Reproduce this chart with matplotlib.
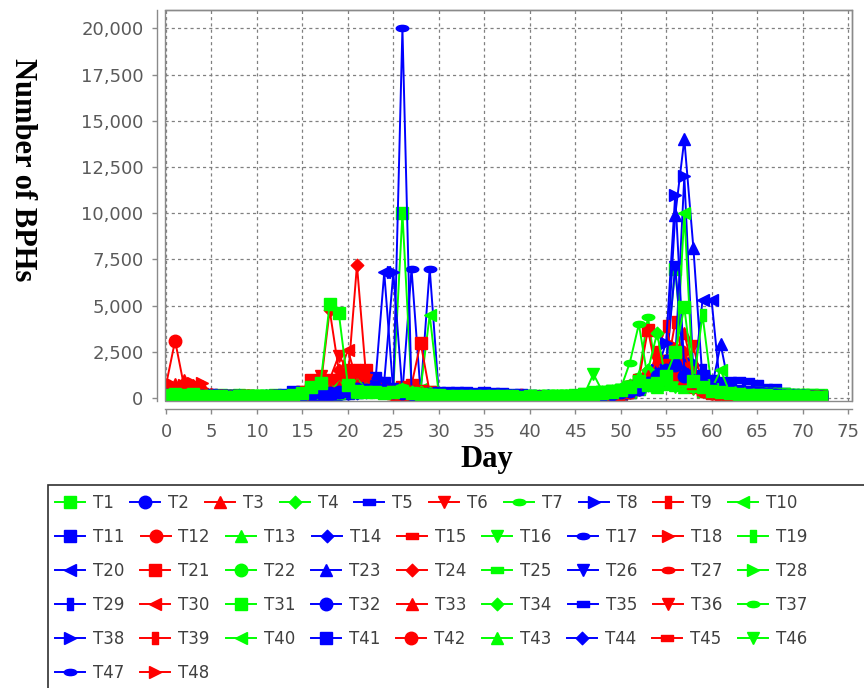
import numpy as np
import matplotlib.pyplot as plt
from matplotlib.path import Path
from matplotlib.patches import Rectangle
from matplotlib.ticker import FuncFormatter

# dias de muestreo
DAYS = list(range(73))

# BPH por trampa (dias 0-19 / 20-39 / 40-59 / 60-72)
T1 = [180, 220, 150, 200, 120, 90, 110, 80, 100, 120, 90, 110, 130, 100, 150, 250, 600, 800, 5100, 4600,
      700, 400, 300, 350, 250, 300, 400, 250, 200, 180, 150, 120, 100, 130, 110, 90, 100, 120, 90, 80,
      100, 80, 90, 110, 100, 120, 150, 200, 250, 300, 450, 600, 900, 700, 800, 1200, 2500, 4900, 900, 600,
      400, 300, 250, 200, 180, 150, 140, 120, 100, 110, 90, 80, 70]
T2 = [150, 120, 100, 90, 110, 130, 100, 80, 90, 70, 80, 60, 90, 100, 120, 150, 200, 300, 250, 350,
      400, 500, 450, 600, 400, 300, 250, 200, 150, 180, 200, 220, 180, 160, 150, 140, 120, 110, 100, 90,
      80, 70, 90, 80, 70, 80, 100, 120, 150, 200, 300, 400, 500, 800, 1200, 1500, 1800, 1200, 900, 700,
      500, 400, 350, 300, 250, 200, 180, 150, 120, 100, 90, 80, 70]
T3 = [700, 750, 1000, 700, 650, 200, 150, 100, 120, 90, 80, 100, 70, 90, 110, 200, 400, 700, 500, 600,
      900, 700, 500, 400, 300, 250, 300, 200, 250, 150, 120, 100, 90, 80, 100, 90, 70, 80, 120, 150,
      90, 70, 60, 80, 70, 90, 100, 120, 150, 200, 300, 500, 800, 1200, 1000, 1500, 1300, 1100, 800, 500,
      300, 250, 200, 150, 130, 120, 100, 90, 80, 70, 60, 50, 40]
T4 = [150, 100, 130, 90, 160, 120, 80, 100, 140, 90, 70, 100, 120, 80, 130, 200, 350, 500, 450, 600,
      550, 700, 500, 400, 350, 300, 500, 350, 300, 250, 200, 150, 120, 100, 90, 110, 80, 70, 90, 100,
      80, 70, 100, 90, 80, 100, 130, 160, 200, 250, 350, 500, 700, 1500, 3500, 900, 700, 800, 600, 500,
      350, 280, 220, 200, 160, 150, 120, 110, 90, 80, 100, 70, 60]
T5 = [200, 180, 150, 300, 250, 300, 280, 250, 220, 200, 180, 200, 250, 300, 500, 400, 300, 250, 200, 300,
      350, 400, 500, 600, 450, 400, 350, 300, 350, 400, 450, 450, 420, 430, 400, 420, 380, 400, 350, 300,
      250, 200, 180, 150, 160, 150, 180, 200, 250, 300, 350, 450, 600, 800, 1000, 1200, 900, 800, 700, 600,
      500, 450, 400, 350, 300, 280, 250, 200, 180, 160, 150, 140, 130]
T6 = [600, 500, 400, 300, 200, 150, 100, 80, 90, 70, 60, 80, 100, 90, 120, 300, 800, 1200, 1000, 2300,
      1500, 800, 1000, 500, 300, 250, 200, 300, 400, 200, 150, 120, 100, 90, 80, 70, 90, 100, 80, 60,
      70, 60, 50, 70, 60, 80, 90, 100, 120, 150, 250, 400, 700, 1000, 2000, 1800, 1200, 900, 700, 400,
      250, 200, 150, 120, 100, 90, 80, 70, 60, 50, 40, 40, 30]
T7 = [120, 140, 100, 110, 90, 70, 90, 60, 80, 100, 120, 90, 70, 100, 110, 180, 300, 400, 350, 450,
      800, 600, 450, 300, 250, 450, 600, 300, 250, 200, 150, 130, 110, 90, 80, 70, 90, 100, 80, 60,
      70, 90, 80, 70, 60, 80, 120, 180, 220, 300, 500, 1900, 4000, 1000, 700, 600, 900, 700, 500, 450,
      300, 250, 200, 180, 150, 130, 110, 100, 90, 70, 60, 80, 50]
T8 = [100, 120, 90, 80, 100, 120, 150, 130, 100, 90, 80, 70, 90, 110, 130, 150, 200, 250, 300, 350,
      300, 400, 500, 700, 900, 6800, 300, 400, 300, 250, 200, 180, 160, 150, 140, 130, 120, 110, 100, 90,
      80, 90, 70, 80, 90, 100, 120, 150, 200, 250, 300, 500, 700, 1000, 1500, 3000, 11000, 1500, 900, 700,
      500, 400, 300, 250, 200, 180, 150, 130, 110, 100, 90, 80, 70]
T9 = [500, 400, 300, 200, 150, 100, 80, 90, 70, 60, 80, 70, 90, 100, 120, 200, 500, 900, 700, 800,
      1000, 1500, 1400, 600, 400, 300, 500, 300, 250, 200, 150, 120, 100, 90, 80, 100, 90, 80, 70, 60,
      50, 60, 70, 60, 50, 70, 80, 100, 120, 150, 200, 300, 600, 1000, 2500, 3900, 1500, 1200, 800, 500,
      300, 200, 150, 120, 100, 80, 70, 60, 50, 50, 40, 40, 30]
T10 = [100, 90, 120, 80, 100, 60, 70, 90, 60, 80, 70, 90, 100, 120, 90, 150, 250, 300, 400, 300,
       500, 450, 600, 350, 300, 400, 350, 300, 200, 150, 140, 120, 100, 80, 100, 90, 70, 80, 60, 70,
       60, 80, 70, 90, 80, 100, 110, 150, 200, 250, 300, 400, 500, 600, 700, 800, 900, 10000, 600, 700,
       500, 1500, 300, 250, 200, 160, 140, 120, 100, 90, 80, 70, 60]
T11 = [130, 110, 100, 120, 90, 80, 100, 90, 80, 70, 60, 80, 90, 100, 110, 130, 150, 200, 250, 300,
       400, 500, 700, 1100, 800, 500, 400, 300, 250, 200, 180, 160, 150, 140, 130, 120, 110, 100, 90, 80,
       70, 60, 70, 80, 60, 70, 90, 110, 150, 200, 250, 400, 600, 900, 1200, 2000, 1500, 1000, 800, 1200,
       900, 700, 500, 400, 300, 250, 200, 150, 120, 100, 90, 80, 70]
T12 = [700, 3100, 600, 400, 300, 150, 100, 80, 70, 90, 60, 70, 80, 60, 90, 150, 300, 500, 600, 400,
       500, 600, 800, 400, 300, 200, 250, 300, 200, 150, 120, 100, 80, 70, 90, 80, 60, 70, 80, 60,
       50, 60, 50, 60, 70, 60, 80, 90, 100, 150, 200, 300, 500, 800, 1000, 2000, 1500, 1000, 600, 400,
       250, 200, 150, 100, 90, 80, 70, 60, 50, 40, 40, 30, 30]
T13 = [90, 110, 80, 130, 100, 80, 60, 90, 110, 70, 90, 80, 60, 90, 100, 130, 200, 350, 300, 250,
       400, 350, 500, 450, 400, 350, 300, 250, 180, 150, 120, 100, 90, 110, 80, 70, 60, 90, 80, 70,
       90, 60, 80, 70, 90, 110, 120, 140, 180, 220, 280, 350, 1200, 800, 600, 1000, 700, 600, 800, 400,
       300, 350, 250, 220, 180, 150, 130, 110, 100, 80, 70, 60, 50]
T14 = [80, 100, 120, 90, 70, 90, 110, 100, 80, 60, 70, 90, 80, 70, 90, 120, 180, 220, 300, 250,
       350, 300, 400, 900, 600, 400, 300, 250, 200, 150, 130, 120, 100, 110, 90, 80, 100, 90, 80, 70,
       60, 70, 80, 70, 60, 80, 100, 130, 160, 200, 250, 350, 500, 700, 1000, 1400, 2500, 1400, 1000, 800,
       600, 500, 400, 300, 250, 200, 160, 130, 110, 90, 80, 70, 60]
T15 = [700, 700, 650, 700, 300, 200, 150, 120, 100, 90, 80, 70, 90, 80, 100, 200, 600, 900, 700, 500,
       600, 900, 700, 500, 400, 300, 200, 250, 200, 150, 120, 100, 90, 80, 70, 80, 90, 70, 60, 70,
       60, 50, 60, 70, 60, 70, 80, 100, 120, 150, 200, 300, 600, 900, 1500, 1200, 1000, 800, 600, 400,
       250, 200, 150, 120, 100, 80, 70, 60, 50, 50, 40, 40, 30]
T16 = [200, 150, 180, 120, 140, 100, 120, 90, 100, 80, 100, 120, 90, 110, 130, 200, 300, 450, 400, 350,
       450, 500, 400, 350, 300, 250, 350, 300, 250, 200, 180, 150, 120, 100, 110, 90, 100, 80, 90, 70,
       80, 90, 70, 80, 100, 130, 200, 350, 300, 400, 450, 550, 700, 900, 1100, 800, 600, 700, 500, 400,
       350, 300, 280, 250, 220, 200, 180, 160, 150, 130, 120, 100, 90]
T17 = [90, 80, 100, 70, 60, 80, 90, 70, 80, 60, 70, 60, 80, 90, 100, 120, 150, 200, 180, 250,
       300, 350, 400, 500, 300, 400, 20000, 400, 300, 200, 180, 150, 140, 120, 110, 100, 90, 80, 70, 60,
       70, 60, 50, 60, 70, 80, 90, 110, 140, 180, 220, 300, 400, 600, 800, 1000, 1300, 900, 700, 500,
       400, 300, 250, 200, 180, 150, 130, 110, 100, 90, 80, 70, 60]
T18 = [700, 650, 700, 800, 800, 200, 150, 100, 80, 90, 70, 80, 90, 70, 100, 180, 400, 600, 800, 700,
       900, 1200, 1000, 600, 400, 300, 200, 250, 300, 200, 150, 120, 100, 90, 80, 70, 80, 90, 70, 60,
       70, 60, 50, 60, 50, 70, 80, 100, 130, 180, 250, 400, 700, 1100, 1300, 1500, 2800, 1800, 1000, 500,
       300, 200, 150, 120, 100, 90, 80, 70, 60, 50, 40, 40, 30]
T19 = [110, 130, 90, 100, 80, 110, 70, 80, 90, 110, 80, 60, 80, 100, 120, 160, 280, 380, 320, 400,
       600, 500, 550, 400, 350, 300, 400, 280, 220, 180, 140, 120, 100, 90, 80, 100, 70, 60, 80, 90,
       70, 80, 60, 90, 80, 100, 120, 160, 200, 260, 320, 450, 600, 800, 700, 900, 1000, 800, 700, 4500,
       600, 400, 300, 250, 200, 170, 150, 130, 110, 100, 80, 70, 60]
T20 = [70, 90, 80, 60, 80, 100, 90, 70, 60, 80, 70, 90, 80, 60, 90, 110, 140, 180, 220, 250,
       300, 350, 500, 700, 6800, 300, 250, 200, 180, 150, 130, 120, 110, 100, 90, 80, 70, 80, 70, 60,
       70, 60, 70, 60, 80, 90, 110, 140, 180, 220, 300, 400, 600, 800, 1000, 1200, 1500, 1000, 600, 5300,
       5300, 300, 250, 200, 180, 150, 130, 110, 100, 90, 80, 70, 60]
T21 = [300, 250, 200, 150, 120, 100, 90, 80, 70, 90, 80, 70, 60, 80, 100, 300, 1000, 900, 600, 700,
       800, 1000, 1500, 500, 400, 300, 600, 700, 3000, 300, 200, 150, 120, 100, 90, 80, 70, 80, 90, 70,
       60, 70, 60, 50, 60, 70, 90, 110, 150, 200, 300, 600, 1000, 3700, 1200, 900, 1500, 1000, 700, 400,
       250, 200, 150, 120, 100, 90, 80, 70, 60, 50, 40, 40, 30]
T22 = [160, 120, 140, 110, 130, 90, 100, 120, 80, 100, 90, 110, 100, 80, 110, 170, 260, 320, 380, 420,
       500, 700, 600, 500, 400, 380, 450, 350, 300, 220, 160, 140, 120, 100, 90, 80, 100, 90, 70, 80,
       90, 70, 80, 60, 90, 110, 150, 220, 280, 330, 400, 500, 600, 750, 900, 1100, 950, 800, 650, 500,
       400, 350, 300, 280, 260, 240, 220, 200, 180, 160, 150, 130, 120]
T23 = [60, 80, 70, 90, 100, 80, 70, 60, 70, 80, 60, 70, 90, 80, 100, 120, 150, 200, 250, 300,
       250, 300, 400, 600, 500, 350, 300, 250, 200, 180, 160, 140, 130, 120, 110, 100, 90, 80, 70, 60,
       60, 70, 60, 50, 60, 70, 90, 120, 150, 200, 250, 350, 500, 800, 1000, 1500, 9900, 14000, 8100, 1000,
       500, 2900, 400, 300, 250, 200, 170, 140, 120, 100, 90, 80, 70]
T24 = [200, 180, 150, 120, 100, 90, 80, 70, 60, 70, 80, 60, 70, 90, 100, 200, 400, 600, 4750, 1500,
       1000, 7200, 1200, 500, 400, 300, 250, 200, 150, 120, 100, 90, 80, 70, 60, 70, 80, 60, 70, 60,
       50, 60, 50, 60, 50, 60, 70, 90, 110, 150, 200, 300, 500, 800, 1000, 1200, 1500, 2500, 1000, 500,
       300, 200, 150, 120, 100, 90, 80, 70, 60, 50, 40, 40, 30]
T25 = [250, 200, 220, 180, 200, 150, 160, 130, 150, 120, 140, 130, 150, 140, 180, 250, 350, 500, 450, 550,
       650, 600, 700, 550, 450, 400, 500, 400, 350, 300, 250, 200, 180, 160, 150, 140, 130, 120, 110, 100,
       110, 100, 120, 110, 130, 150, 200, 300, 380, 420, 500, 650, 800, 1000, 900, 1300, 1100, 900, 800, 700,
       500, 400, 350, 320, 300, 280, 260, 240, 220, 200, 180, 160, 150]
T26 = [100, 80, 70, 90, 110, 90, 80, 70, 90, 80, 60, 70, 80, 70, 90, 110, 130, 160, 200, 220,
       280, 320, 380, 450, 350, 300, 250, 220, 190, 170, 150, 140, 130, 120, 110, 100, 90, 80, 70, 60,
       60, 50, 60, 70, 60, 80, 100, 130, 170, 210, 280, 380, 550, 850, 1100, 1600, 7100, 1300, 900, 700,
       500, 400, 320, 260, 220, 180, 150, 130, 110, 90, 80, 70, 60]
T27 = [150, 130, 120, 100, 90, 80, 70, 60, 70, 80, 60, 70, 80, 60, 90, 150, 300, 500, 400, 600,
       700, 800, 600, 400, 300, 250, 600, 700, 300, 200, 150, 120, 100, 90, 80, 100, 120, 150, 200, 350,
       150, 100, 80, 70, 60, 70, 80, 100, 120, 150, 200, 350, 600, 900, 1200, 1400, 1600, 1200, 800, 400,
       250, 200, 150, 120, 100, 90, 80, 70, 60, 50, 40, 40, 30]
T28 = [130, 160, 120, 140, 110, 100, 130, 110, 90, 100, 110, 90, 120, 100, 140, 200, 300, 420, 380, 500,
       600, 550, 650, 500, 420, 380, 450, 380, 320, 250, 190, 160, 140, 120, 110, 100, 90, 110, 100, 80,
       100, 90, 110, 100, 120, 140, 180, 250, 320, 380, 450, 600, 750, 900, 1000, 1200, 1000, 850, 700, 600,
       450, 380, 320, 300, 270, 250, 230, 210, 190, 170, 150, 140, 130]
T29 = [120, 100, 90, 80, 100, 120, 100, 90, 80, 70, 80, 90, 70, 80, 110, 140, 160, 190, 230, 270,
       330, 380, 450, 550, 400, 350, 300, 260, 230, 200, 180, 170, 160, 150, 140, 130, 120, 110, 100, 90,
       80, 70, 80, 70, 80, 90, 110, 140, 180, 230, 300, 420, 600, 900, 1300, 1800, 1400, 1100, 900, 1500,
       800, 600, 450, 350, 280, 230, 190, 160, 140, 120, 110, 100, 90]
T30 = [250, 200, 180, 150, 120, 100, 80, 70, 60, 80, 70, 60, 80, 70, 90, 180, 500, 700, 900, 1200,
       2600, 900, 700, 500, 350, 250, 300, 350, 250, 180, 130, 110, 90, 80, 70, 80, 90, 70, 60, 70,
       60, 50, 60, 50, 60, 70, 80, 100, 120, 160, 220, 320, 550, 850, 1100, 1300, 1000, 1700, 900, 450,
       280, 200, 160, 130, 110, 90, 80, 70, 60, 50, 40, 40, 30]
T31 = [170, 140, 160, 130, 120, 110, 100, 120, 90, 110, 100, 80, 110, 130, 120, 180, 320, 450, 500, 650,
       700, 600, 550, 450, 350, 500, 10000, 600, 400, 300, 220, 180, 150, 130, 120, 110, 100, 90, 100, 80,
       90, 80, 100, 90, 110, 130, 170, 240, 300, 360, 450, 600, 800, 1000, 1300, 2000, 7000, 1200, 900, 700,
       500, 420, 360, 320, 290, 260, 240, 220, 200, 180, 160, 150, 140]
T32 = [90, 110, 80, 70, 90, 80, 100, 80, 70, 60, 70, 80, 60, 90, 100, 120, 140, 170, 210, 240,
       280, 330, 400, 500, 380, 330, 280, 240, 210, 190, 170, 160, 150, 140, 130, 120, 110, 100, 90, 80,
       70, 60, 70, 60, 70, 80, 100, 130, 170, 220, 300, 420, 650, 950, 1200, 1400, 1100, 1900, 1000, 800,
       600, 450, 350, 300, 250, 200, 170, 140, 120, 100, 90, 80, 70]
T33 = [300, 350, 250, 200, 150, 100, 80, 70, 60, 70, 80, 60, 70, 80, 90, 170, 450, 650, 800, 900,
       1100, 800, 600, 450, 300, 250, 200, 300, 200, 150, 120, 100, 90, 80, 70, 80, 90, 70, 60, 70,
       50, 60, 50, 60, 50, 70, 80, 100, 130, 180, 250, 380, 650, 950, 1300, 1600, 2000, 3500, 1400, 600,
       300, 220, 170, 130, 110, 90, 80, 70, 60, 50, 40, 40, 30]
T34 = [140, 120, 100, 130, 110, 90, 110, 80, 100, 90, 80, 100, 110, 90, 120, 170, 270, 360, 330, 420,
       520, 480, 560, 420, 380, 330, 420, 320, 270, 210, 170, 140, 120, 110, 100, 90, 80, 100, 90, 70,
       80, 100, 90, 110, 100, 120, 160, 220, 300, 380, 480, 700, 1000, 1500, 1200, 1000, 1400, 1600, 900, 650,
       420, 360, 300, 270, 240, 220, 200, 180, 160, 150, 130, 120, 110]
T35 = [150, 130, 120, 100, 110, 130, 120, 100, 90, 80, 90, 100, 80, 100, 150, 130, 160, 200, 240, 280,
       320, 380, 450, 600, 450, 380, 320, 280, 250, 230, 350, 380, 360, 350, 330, 320, 300, 280, 260, 220,
       180, 150, 130, 120, 110, 120, 150, 180, 220, 280, 350, 480, 650, 900, 1100, 1300, 1100, 1000, 900, 800,
       900, 1000, 1000, 1000, 900, 800, 600, 600, 400, 300, 250, 250, 250]
T36 = [200, 180, 150, 120, 100, 80, 70, 60, 70, 60, 70, 80, 60, 70, 90, 160, 420, 600, 750, 1000,
       1300, 1000, 700, 500, 350, 250, 250, 280, 220, 160, 120, 100, 90, 80, 70, 70, 80, 70, 60, 60,
       50, 60, 50, 50, 60, 60, 80, 100, 120, 170, 230, 350, 600, 900, 1200, 1400, 1800, 1500, 2800, 700,
       300, 220, 170, 130, 110, 90, 80, 70, 60, 50, 40, 40, 30]
T37 = [100, 130, 110, 90, 120, 100, 80, 100, 120, 90, 110, 90, 80, 110, 100, 160, 250, 340, 360, 380,
       480, 520, 450, 400, 360, 320, 380, 300, 250, 200, 160, 130, 110, 100, 90, 80, 100, 90, 80, 90,
       70, 90, 80, 100, 110, 130, 170, 230, 290, 350, 450, 800, 1200, 4400, 1000, 900, 1100, 900, 750, 550,
       400, 350, 300, 260, 230, 210, 190, 170, 150, 140, 120, 110, 100]
T38 = [80, 70, 90, 80, 70, 90, 80, 70, 60, 70, 80, 70, 60, 80, 90, 110, 130, 160, 190, 220,
       260, 300, 350, 450, 350, 300, 260, 230, 200, 180, 160, 150, 140, 130, 120, 110, 100, 90, 80, 70,
       60, 70, 60, 70, 60, 80, 100, 120, 160, 200, 280, 380, 550, 800, 1000, 1300, 2000, 12000, 1300, 800,
       600, 450, 350, 280, 230, 190, 160, 140, 120, 100, 90, 80, 70]
T39 = [180, 150, 130, 100, 90, 80, 70, 60, 70, 60, 50, 70, 60, 70, 80, 140, 380, 550, 700, 800,
       1000, 1200, 900, 600, 400, 300, 350, 400, 300, 200, 140, 110, 90, 80, 70, 60, 70, 80, 60, 50,
       50, 50, 60, 50, 50, 60, 70, 90, 110, 160, 220, 330, 560, 850, 1100, 1300, 4100, 1800, 1200, 600,
       300, 220, 170, 130, 110, 90, 80, 70, 60, 50, 40, 40, 30]
T40 = [120, 100, 140, 110, 90, 120, 100, 90, 110, 80, 100, 120, 100, 90, 110, 150, 230, 320, 340, 360,
       420, 460, 420, 380, 330, 300, 350, 280, 500, 4500, 200, 160, 130, 110, 100, 90, 80, 90, 100, 80,
       90, 80, 100, 90, 100, 120, 150, 210, 270, 330, 420, 560, 750, 950, 1100, 950, 1200, 900, 700, 1000,
       800, 400, 330, 290, 260, 230, 210, 190, 170, 150, 130, 120, 110]
T41 = [110, 90, 80, 100, 90, 110, 90, 80, 70, 90, 80, 60, 70, 90, 120, 140, 170, 200, 230, 260,
       300, 360, 420, 520, 400, 340, 290, 250, 220, 200, 180, 160, 150, 140, 130, 120, 110, 100, 90, 80,
       70, 60, 70, 60, 70, 80, 100, 130, 170, 220, 290, 400, 600, 900, 1100, 1700, 1300, 1100, 900, 700,
       550, 450, 400, 350, 300, 250, 200, 170, 140, 120, 110, 100, 90]
T42 = [250, 300, 200, 150, 120, 100, 80, 70, 60, 70, 60, 70, 80, 60, 80, 150, 350, 500, 650, 700,
       800, 900, 750, 500, 350, 250, 200, 250, 200, 150, 120, 100, 90, 80, 70, 60, 70, 80, 70, 60,
       50, 60, 50, 60, 50, 60, 70, 90, 120, 170, 240, 360, 600, 900, 1300, 2000, 1500, 1100, 800, 450,
       280, 200, 160, 130, 110, 90, 80, 70, 60, 50, 40, 40, 30]
T43 = [150, 170, 130, 150, 120, 140, 110, 130, 100, 120, 130, 110, 140, 120, 160, 220, 330, 440, 400, 480,
       580, 540, 620, 480, 420, 360, 430, 360, 300, 240, 180, 150, 130, 120, 110, 100, 120, 100, 110, 90,
       100, 110, 90, 100, 120, 140, 180, 260, 340, 400, 480, 620, 780, 950, 1050, 1250, 1050, 900, 800, 650,
       480, 400, 340, 310, 280, 260, 240, 220, 200, 180, 160, 150, 140]
T44 = [70, 60, 80, 70, 90, 70, 60, 80, 70, 60, 70, 80, 70, 60, 80, 100, 120, 150, 180, 210,
       250, 290, 340, 420, 330, 290, 250, 220, 190, 170, 150, 140, 130, 120, 110, 100, 90, 80, 70, 60,
       60, 50, 60, 50, 60, 70, 90, 120, 160, 210, 270, 370, 520, 780, 1000, 1200, 1500, 1300, 1800, 900,
       650, 500, 400, 320, 260, 210, 180, 150, 130, 110, 100, 90, 80]
T45 = [220, 200, 170, 140, 110, 90, 80, 70, 60, 70, 60, 70, 60, 70, 80, 140, 320, 480, 620, 750,
       850, 800, 650, 450, 320, 240, 220, 260, 210, 160, 120, 100, 90, 80, 70, 60, 70, 70, 60, 60,
       50, 50, 60, 50, 50, 60, 70, 90, 110, 150, 220, 340, 580, 1000, 1500, 1200, 1300, 1000, 700, 400,
       260, 190, 150, 120, 100, 90, 80, 70, 60, 50, 40, 40, 30]
T46 = [180, 150, 170, 140, 160, 130, 150, 120, 140, 110, 130, 120, 140, 130, 150, 210, 310, 420, 390, 460,
       560, 520, 600, 460, 400, 350, 420, 350, 290, 230, 170, 150, 130, 120, 110, 100, 110, 100, 90, 100,
       110, 100, 120, 110, 130, 150, 200, 1300, 350, 380, 460, 580, 740, 900, 1000, 1150, 1000, 850, 750, 620,
       460, 380, 330, 300, 270, 250, 230, 210, 190, 170, 150, 140, 130]
T47 = [100, 90, 70, 80, 100, 90, 70, 80, 60, 70, 60, 70, 80, 70, 90, 110, 140, 170, 200, 230,
       270, 310, 360, 440, 350, 300, 300, 7000, 250, 7000, 250, 200, 180, 160, 150, 140, 130, 120, 110, 100,
       80, 70, 60, 70, 60, 80, 100, 130, 160, 210, 270, 370, 540, 800, 1000, 1300, 1500, 1200, 900, 700,
       500, 400, 320, 270, 230, 190, 160, 140, 120, 100, 90, 80, 70]
T48 = [260, 240, 200, 170, 130, 100, 90, 70, 60, 70, 60, 70, 60, 70, 90, 160, 380, 560, 700, 850,
       950, 850, 700, 480, 340, 260, 230, 270, 220, 170, 130, 110, 90, 80, 70, 70, 80, 80, 70, 60,
       50, 60, 50, 60, 60, 60, 80, 100, 120, 170, 240, 360, 620, 950, 1250, 1500, 1700, 1300, 900, 420,
       270, 200, 160, 130, 110, 90, 80, 70, 60, 50, 40, 40, 30]

SERIES = [T1, T2, T3, T4, T5, T6, T7, T8, T9, T10, T11, T12, T13, T14, T15, T16,
          T17, T18, T19, T20, T21, T22, T23, T24, T25, T26, T27, T28, T29, T30, T31, T32,
          T33, T34, T35, T36, T37, T38, T39, T40, T41, T42, T43, T44, T45, T46, T47, T48]
NAMES = ['T%d' % (i + 1) for i in range(len(SERIES))]

COLORES = ['#00ff00', '#0000ff', '#ff0000']

# formas tipo JFreeChart
_cod = [Path.MOVETO, Path.LINETO, Path.LINETO, Path.LINETO, Path.CLOSEPOLY]
rect_h = Path([(-1, -0.5), (1, -0.5), (1, 0.5), (-1, 0.5), (-1, -0.5)], _cod)
rect_v = Path([(-0.5, -1), (0.5, -1), (0.5, 1), (-0.5, 1), (-0.5, -1)], _cod)
rombo = Path([(0, -1), (1, 0), (0, 1), (-1, 0), (0, -1)], _cod)
_c = Path.unit_circle()
elipse = Path(_c.vertices * np.array([1, 0.5]), _c.codes)
MARCAS = ['s', 'o', '^', rombo, rect_h, 'v', elipse, '>', rect_v, '<']


if __name__ == '__main__':

    fig = plt.figure(figsize=(8.64, 6.88), dpi=100)
    ax = fig.add_axes([165/864, 1 - 401/688, (852 - 165)/864, (401 - 10)/688])

    lineas = [None] * len(SERIES)
    # JFreeChart dibuja en orden inverso: T1 queda arriba
    for i in reversed(range(len(SERIES))):
        ln, = ax.plot(DAYS, SERIES[i], color=COLORES[i % 3], marker=MARCAS[i % 10],
                      ms=9, lw=1.4, label=NAMES[i])
        lineas[i] = ln

    ax.set_xlim(-0.11, 75.44)
    ax.set_ylim(-162, 21000)
    ax.set_xticks(range(0, 76, 5))
    ax.set_yticks(range(0, 20001, 2500))
    ax.yaxis.set_major_formatter(FuncFormatter(lambda v, p: f'{int(v):,}'))

    ax.set_axisbelow(True)
    ax.grid(True, color='#808080', linestyle=(0, (2.5, 2.5)), lw=0.9)

    gris = '#8a8a8a'
    for s in ['left', 'bottom']:
        ax.spines[s].set_position(('outward', 6))
    for s in ax.spines.values():
        s.set_color(gris)
        s.set_linewidth(1.0)
    ax.add_patch(Rectangle((0, 0), 1, 1, transform=ax.transAxes, fill=False,
                           edgecolor=gris, lw=1.0, clip_on=False, zorder=5))
    ax.tick_params(direction='out', length=3.5, width=1, color=gris,
                   labelcolor='#5a5a5a', labelsize=13, pad=6)

    fig.text(22/864, 1 - 170/688, 'Number of BPHs', rotation=-90, ha='center', va='center',
             fontfamily='Liberation Serif', fontweight='bold', fontsize=22)
    fig.text(487/864, 1 - 460/688, 'Day', ha='center', va='center',
             fontfamily='Liberation Serif', fontweight='bold', fontsize=22)

    # leyenda en filas (flujo como JFreeChart): 10, 9, 9, 9, 9, 2
    cortes = [0, 10, 19, 28, 37, 46, 48]
    filas_y = [503, 537, 571, 605, 639, 673]
    for r, yy in enumerate(filas_y):
        hs = lineas[cortes[r]:cortes[r + 1]]
        leg = fig.legend(hs, [h.get_label() for h in hs], loc='center left',
                         bbox_to_anchor=(55/864, 1 - yy/688), ncol=len(hs), frameon=False,
                         fontsize=12, handlelength=1.8, handletextpad=0.48,
                         columnspacing=0.96, borderpad=0, borderaxespad=0, numpoints=1)
        for t in leg.get_texts():
            t.set_color('#404040')
    fig.patches.append(Rectangle((48/864, -0.05), 1, 1 - 485/688 + 0.05,
                                 transform=fig.transFigure, fill=False,
                                 edgecolor='#303030', lw=1.2))

    plt.savefig('out.png', dpi=100)
